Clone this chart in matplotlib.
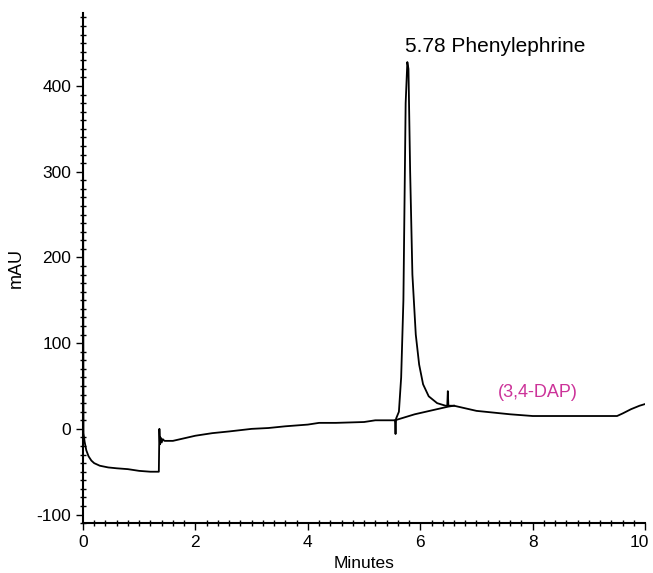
import matplotlib
matplotlib.use("Agg")
import matplotlib.pyplot as plt
import matplotlib.transforms as mtransforms
from matplotlib.ticker import MultipleLocator

plt.rcParams["font.family"] = ["Liberation Sans", "DejaVu Sans"]
plt.rcParams["axes.unicode_minus"] = False

# Main chromatogram trace (minutes, mAU)
time_main = [0.0, 0.005, 0.01, 0.03, 0.06, 0.1, 0.15, 0.2, 0.3, 0.45, 0.6, 0.8,
             1.0, 1.2, 1.35, 1.36, 1.37, 1.38, 1.40, 1.42, 1.45, 1.6, 1.8, 2.0,
             2.3, 2.6, 3.0, 3.3, 3.6, 4.0, 4.2, 4.5, 5.0, 5.2, 5.5, 5.55, 5.56,
             5.57, 5.62, 5.66, 5.70, 5.74, 5.77, 5.79, 5.82, 5.86, 5.92, 5.98,
             6.05, 6.15, 6.3, 6.45, 6.48, 6.49, 6.50, 6.6, 6.8, 7.0, 7.3, 7.6,
             8.0, 8.5, 9.0, 9.5, 9.6, 9.75, 9.9, 10.0]
mau_main = [490, 200, -5, -15, -25, -32, -37, -40, -43, -45, -46, -47,
            -49, -50, -50, 0, -18, -10, -16, -12, -14, -14, -11, -8,
            -5, -3, 0, 1, 3, 5, 7, 7, 8, 10, 10, 10, -6,
            12, 20, 60, 150, 380, 428, 420, 300, 180, 110, 75,
            52, 38, 30, 27, 27, 44, 27, 27, 24, 21, 19, 17,
            15, 15, 15, 15, 18, 23, 27, 29]

# Baseline trace running under the peak
time_base = [5.55, 5.7, 5.9, 6.1, 6.3, 6.5, 6.6]
mau_base = [10, 13, 17, 20, 23, 26, 27]

fig = plt.figure(figsize=(6.53, 5.73), dpi=100)
ax = fig.add_axes([0.127, 0.087, 0.861, 0.890])

ax.plot(time_main, mau_main, color="black", linewidth=1.3)
ax.plot(time_base, mau_base, color="black", linewidth=1.3)

ax.set_xlim(0, 10)
ax.set_ylim(-110, 485)

ax.spines["top"].set_visible(False)
ax.spines["right"].set_visible(False)
ax.spines["left"].set_linewidth(1.5)
ax.spines["bottom"].set_linewidth(1.5)

ax.xaxis.set_major_locator(MultipleLocator(2))
ax.xaxis.set_minor_locator(MultipleLocator(0.2))
ax.yaxis.set_major_locator(MultipleLocator(100))
ax.yaxis.set_minor_locator(MultipleLocator(10))
ax.tick_params(axis="both", which="major", labelsize=12.5, length=5, width=1)
ax.tick_params(axis="both", which="minor", direction="inout", length=4, width=1)

ax.set_xlabel("Minutes", fontsize=12.5, labelpad=4)
ax.set_ylabel("mAU", fontsize=13, labelpad=8)

ax.text(5.72, 435, "5.78 Phenylephrine", fontsize=15, ha="left", va="bottom")
ax.text(7.38, 42, "(3,4-DAP)", fontsize=13, color="#cc3399", ha="left", va="center")

# nudge the last x tick label so it stays inside the figure
fig.canvas.draw()
last = ax.xaxis.get_major_ticks()[-1]
for tick in ax.xaxis.get_major_ticks():
    if abs(tick.get_loc() - 10) < 1e-6:
        last = tick
shift = mtransforms.ScaledTranslation(-4 / 72, 0, fig.dpi_scale_trans)
last.label1.set_transform(last.label1.get_transform() + shift)

fig.savefig("out.png", dpi=100)
